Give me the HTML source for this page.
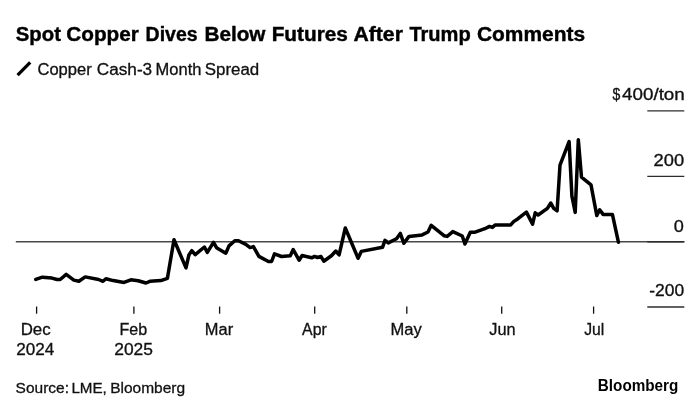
<!DOCTYPE html>
<html><head><meta charset="utf-8"><title>Spot Copper Dives Below Futures After Trump Comments</title>
<style>
html,body{margin:0;padding:0;background:#fff;}
svg{display:block;font-family:"Liberation Sans",sans-serif;}
</style></head><body>
<svg width="700" height="411" viewBox="0 0 700 411">
<rect width="700" height="411" fill="#fff"/>
<line x1="17.6" y1="75.2" x2="30.2" y2="62.3" stroke="#000" stroke-width="3.2"/>
<line x1="15.8" y1="241.75" x2="684.3" y2="241.75" stroke="#484848" stroke-width="1.4"/>
<line x1="647.3" y1="110.9" x2="684.3" y2="110.9" stroke="#2c2c2c" stroke-width="1.4"/>
<line x1="647.3" y1="176.4" x2="684.3" y2="176.4" stroke="#2c2c2c" stroke-width="1.4"/>
<line x1="647.3" y1="241.75" x2="684.3" y2="241.75" stroke="#2c2c2c" stroke-width="1.4"/>
<line x1="647.3" y1="307.0" x2="684.3" y2="307.0" stroke="#2c2c2c" stroke-width="1.4"/>
<line x1="36.6" y1="306.5" x2="36.6" y2="313.7" stroke="#111" stroke-width="1.3"/>
<line x1="133.9" y1="306.5" x2="133.9" y2="313.7" stroke="#111" stroke-width="1.3"/>
<line x1="219.6" y1="306.5" x2="219.6" y2="313.7" stroke="#111" stroke-width="1.3"/>
<line x1="314.7" y1="306.5" x2="314.7" y2="313.7" stroke="#111" stroke-width="1.3"/>
<line x1="406.8" y1="306.5" x2="406.8" y2="313.7" stroke="#111" stroke-width="1.3"/>
<line x1="501.7" y1="306.5" x2="501.7" y2="313.7" stroke="#111" stroke-width="1.3"/>
<line x1="593.6" y1="306.5" x2="593.6" y2="313.7" stroke="#111" stroke-width="1.3"/>
<path transform="translate(0,0.2)" d="M35.8,279.2 L42.4,277.0 L51.9,277.9 L57.0,279.3 L60.2,279.3 L66.2,274.2 L73.8,279.9 L78.9,281.1 L85.2,276.7 L98.6,279.3 L103.0,281.1 L105.9,278.5 L113.2,280.4 L124.0,282.2 L130.9,279.6 L138.2,280.5 L146.0,282.8 L149.9,281.1 L160.9,280.4 L167.4,278.2 L174.0,239.5 L186.0,267.7 L188.9,254.8 L191.8,250.4 L195.2,254.5 L204.4,246.8 L207.3,252.2 L213.5,242.2 L216.5,247.5 L225.8,253.0 L229.0,245.7 L234.8,240.5 L238.5,240.5 L245.8,244.2 L250.1,247.4 L253.4,246.4 L258.9,256.2 L268.4,261.3 L271.6,261.3 L274.5,253.7 L281.5,256.3 L290.3,255.6 L293.2,249.3 L299.1,260.0 L302.1,255.3 L311.7,257.6 L314.6,256.2 L317.5,257.3 L320.9,256.3 L323.8,261.0 L331.4,255.6 L335.8,250.8 L339.1,254.7 L345.3,227.8 L358.1,258.1 L361.3,251.2 L382.5,247.1 L385.0,240.1 L388.3,242.7 L396.5,238.5 L400.3,233.2 L403.9,243.1 L409.0,236.2 L422.1,234.7 L428.0,231.8 L431.2,225.1 L444.0,235.5 L447.2,236.2 L452.8,231.4 L462.3,235.8 L464.9,243.8 L470.3,232.1 L474.4,232.1 L484.9,228.5 L489.5,226.2 L492.4,227.2 L495.3,224.7 L510.7,224.7 L513.6,221.4 L518.0,218.5 L526.4,211.9 L532.6,223.9 L535.2,212.6 L538.1,214.8 L547.4,208.2 L550.8,202.8 L553.7,208.2 L557.1,210.6 L560.0,165.0 L569.1,141.4 L571.9,196.0 L575.2,212.2 L578.3,139.5 L581.5,177.0 L591.0,184.7 L596.8,215.4 L599.7,209.5 L603.1,214.2 L612.4,214.2 L618.4,242.0" fill="none" stroke="#000" stroke-width="3.5" stroke-linejoin="round" stroke-linecap="round"/>
<text y="40.8" font-size="19.6" font-weight="bold" fill="#000" stroke="#000" stroke-width="0.4"><tspan x="15.80" textLength="45.10" lengthAdjust="spacingAndGlyphs">Spot</tspan> <tspan x="66.35" textLength="72.50" lengthAdjust="spacingAndGlyphs">Copper</tspan> <tspan x="145.60" textLength="52.00" lengthAdjust="spacingAndGlyphs">Dives</tspan> <tspan x="204.45" textLength="61.00" lengthAdjust="spacingAndGlyphs">Below</tspan> <tspan x="271.65" textLength="76.20" lengthAdjust="spacingAndGlyphs">Futures</tspan> <tspan x="353.45" textLength="49.45" lengthAdjust="spacingAndGlyphs">After</tspan> <tspan x="409.40" textLength="61.35" lengthAdjust="spacingAndGlyphs">Trump</tspan> <tspan x="476.95" textLength="108.10" lengthAdjust="spacingAndGlyphs">Comments</tspan></text>
<text y="74.7" font-size="15.6" fill="#111" stroke="#111" stroke-width="0.3"><tspan x="37.45" textLength="54.25" lengthAdjust="spacingAndGlyphs">Copper</tspan> <tspan x="96.75" textLength="55.45" lengthAdjust="spacingAndGlyphs">Cash-3</tspan> <tspan x="155.55" textLength="45.85" lengthAdjust="spacingAndGlyphs">Month</tspan> <tspan x="204.75" textLength="54.45" lengthAdjust="spacingAndGlyphs">Spread</tspan></text>
<text y="99.8" font-size="15.6" fill="#111" stroke="#111" stroke-width="0.3"><tspan x="612.55" textLength="7.80" lengthAdjust="spacingAndGlyphs">$</tspan><tspan x="622.05" textLength="62.75" lengthAdjust="spacingAndGlyphs">400/ton</tspan></text>
<text x="653.55" y="166.3" font-size="15.6" fill="#111" stroke="#111" stroke-width="0.3" textLength="30.55" lengthAdjust="spacingAndGlyphs">200</text>
<text x="673.80" y="231.6" font-size="15.6" fill="#111" stroke="#111" stroke-width="0.3" textLength="10.10" lengthAdjust="spacingAndGlyphs">0</text>
<text x="649.20" y="296.4" font-size="15.6" fill="#111" stroke="#111" stroke-width="0.3" textLength="34.90" lengthAdjust="spacingAndGlyphs">-200</text>
<text x="20.65" y="334.8" font-size="15.6" fill="#111" stroke="#111" stroke-width="0.3" textLength="30.00" lengthAdjust="spacingAndGlyphs">Dec</text>
<text x="16.35" y="354.9" font-size="15.6" fill="#111" stroke="#111" stroke-width="0.3" textLength="38.00" lengthAdjust="spacingAndGlyphs">2024</text>
<text x="119.55" y="334.8" font-size="15.6" fill="#111" stroke="#111" stroke-width="0.3" textLength="27.65" lengthAdjust="spacingAndGlyphs">Feb</text>
<text x="114.25" y="354.9" font-size="15.6" fill="#111" stroke="#111" stroke-width="0.3" textLength="38.75" lengthAdjust="spacingAndGlyphs">2025</text>
<text x="204.85" y="334.8" font-size="15.6" fill="#111" stroke="#111" stroke-width="0.3" textLength="28.30" lengthAdjust="spacingAndGlyphs">Mar</text>
<text x="302.10" y="334.8" font-size="15.6" fill="#111" stroke="#111" stroke-width="0.3" textLength="24.65" lengthAdjust="spacingAndGlyphs">Apr</text>
<text x="390.55" y="334.8" font-size="15.6" fill="#111" stroke="#111" stroke-width="0.3" textLength="31.25" lengthAdjust="spacingAndGlyphs">May</text>
<text x="489.30" y="334.8" font-size="15.6" fill="#111" stroke="#111" stroke-width="0.3" textLength="26.30" lengthAdjust="spacingAndGlyphs">Jun</text>
<text x="584.20" y="334.8" font-size="15.6" fill="#111" stroke="#111" stroke-width="0.3" textLength="20.10" lengthAdjust="spacingAndGlyphs">Jul</text>
<text y="393.0" font-size="15.3" fill="#111" stroke="#111" stroke-width="0.3"><tspan x="15.60" textLength="53.35" lengthAdjust="spacingAndGlyphs">Source:</tspan> <tspan x="71.40" textLength="35.45" lengthAdjust="spacingAndGlyphs">LME,</tspan> <tspan x="110.15" textLength="75.00" lengthAdjust="spacingAndGlyphs">Bloomberg</tspan></text>
<text x="597.80" y="390.8" font-size="15.6" font-weight="bold" fill="#000" stroke="#000" stroke-width="0" textLength="80.60" lengthAdjust="spacingAndGlyphs">Bloomberg</text>
</svg>
</body></html>
